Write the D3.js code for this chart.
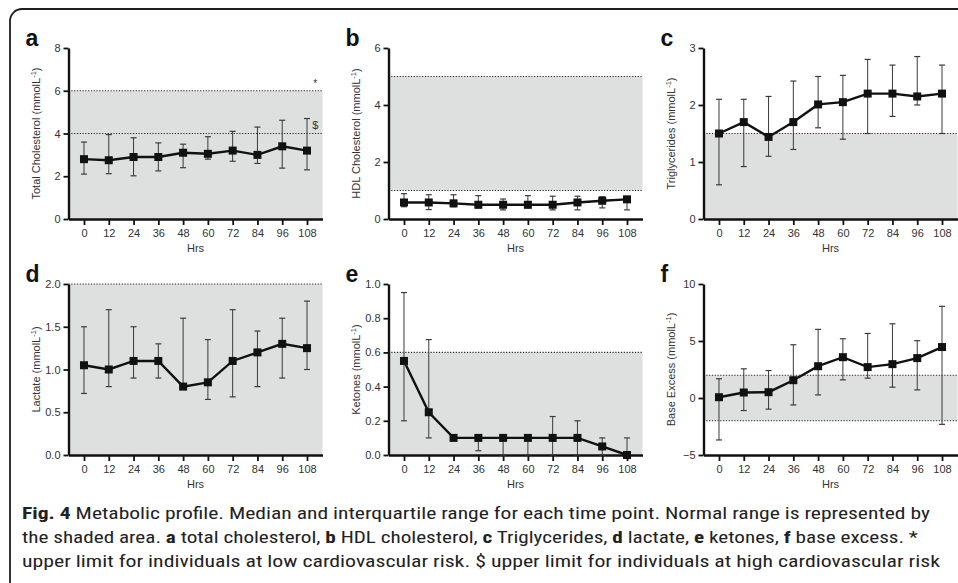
<!DOCTYPE html>
<html>
<head>
<meta charset="utf-8">
<script src="https://cdn.jsdelivr.net/npm/d3@7"></script>
<style>
  body { margin: 0; background: #fff; }
  svg { display: block; }
</style>
</head>
<body>
<div id="chart"></div>
<script>
// time points (hours)
var hours = [0, 12, 24, 36, 48, 60, 72, 84, 96, 108];

// a - total cholesterol
var tcMed = [2.8, 2.75, 2.9, 2.9, 3.1, 3.05, 3.2, 3.0, 3.4, 3.2];
var tcLo  = [2.1, 2.12, 2.02, 2.25, 2.4, 2.8, 2.7, 2.6, 2.38, 2.3];
var tcHi  = [3.6, 3.95, 3.8, 3.56, 3.5, 3.85, 4.1, 4.3, 4.62, 4.7];

// b - HDL cholesterol
var hdlMed = [0.58, 0.58, 0.55, 0.5, 0.5, 0.5, 0.5, 0.58, 0.64, 0.69];
var hdlLo  = [0.43, 0.33, 0.43, 0.39, 0.32, 0.39, 0.32, 0.32, 0.39, 0.32];
var hdlHi  = [0.89, 0.85, 0.85, 0.82, 0.7, 0.82, 0.8, 0.8, 0.78, 0.76];

// c - triglycerides
var tgMed = [1.5, 1.7, 1.44, 1.7, 2.01, 2.05, 2.2, 2.2, 2.15, 2.2];
var tgLo  = [0.6, 0.92, 1.1, 1.22, 1.6, 1.4, 1.5, 1.8, 2.0, 1.5];
var tgHi  = [2.1, 2.1, 2.15, 2.42, 2.5, 2.52, 2.8, 2.7, 2.85, 2.7];

// d - lactate
var lacMed = [1.05, 1.0, 1.1, 1.1, 0.8, 0.85, 1.1, 1.2, 1.3, 1.25];
var lacLo  = [0.72, 0.8, 0.9, 0.9, 0.8, 0.65, 0.68, 0.8, 0.9, 1.0];
var lacHi  = [1.5, 1.7, 1.5, 1.3, 1.6, 1.35, 1.7, 1.45, 1.6, 1.8];

// e - ketones
var ketMed = [0.55, 0.25, 0.1, 0.1, 0.1, 0.1, 0.1, 0.1, 0.05, 0];
var ketLo  = [0.2, 0.1, 0.1, 0.025, 0, 0, 0, 0, 0, 0];
var ketHi  = [0.95, 0.675, 0.1, 0.1, 0.1, 0.1, 0.225, 0.2, 0.1, 0.1];

// f - base excess
var beMed = [0.07, 0.48, 0.51, 1.56, 2.79, 3.58, 2.71, 2.97, 3.5, 4.47];
var beLo  = [-3.68, -1.1, -0.98, -0.61, 0.27, 1.59, 1.74, 0.95, 0.71, -2.31];
var beHi  = [1.69, 2.56, 2.41, 4.67, 6.02, 5.2, 5.66, 6.51, 5.03, 8.04];

// normal ranges and y ticks
var tcRange = [0, 6],    tcTicks = [0, 2, 4, 6, 8];
var hdlRange = [1, 5],   hdlTicks = [0, 2, 4, 6];
var tgRange = [0, 1.5],  tgTicks = [0, 1, 2, 3];
var lacRange = [0, 2],   lacTicks = [0, 0.5, 1, 1.5, 2];
var ketRange = [0, 0.6], ketTicks = [0, 0.2, 0.4, 0.6, 0.8, 1];
var beRange = [-2, 2],   beTicks = [-5, 0, 5, 10];

var W = 958, H = 583;
var font = '"Liberation Sans", Arial, Helvetica, sans-serif';
var colX = [68.5, 388.5, 703.5];
var plotW = 254;
var rowY = [[48, 219], [284, 455]];

var panels = [
  {letter: 'a', c: 0, r: 0, title: 'Total Cholesterol  (mmolL', med: tcMed, lo: tcLo, hi: tcHi,
   ticks: tcTicks, fmt: d3.format('d'), band: tcRange, dots: [6, 4]},
  {letter: 'b', c: 1, r: 0, title: 'HDL Cholesterol (mmolL', med: hdlMed, lo: hdlLo, hi: hdlHi,
   ticks: hdlTicks, fmt: d3.format('d'), band: hdlRange, dots: [1, 5]},
  {letter: 'c', c: 2, r: 0, title: 'Triglycerides  (mmolL', med: tgMed, lo: tgLo, hi: tgHi,
   ticks: tgTicks, fmt: d3.format('d'), band: tgRange, dots: [1.5]},
  {letter: 'd', c: 0, r: 1, title: 'Lactate  (mmolL', med: lacMed, lo: lacLo, hi: lacHi,
   ticks: lacTicks, fmt: d3.format('.1f'), band: lacRange, dots: [2]},
  {letter: 'e', c: 1, r: 1, title: 'Ketones (mmolL', med: ketMed, lo: ketLo, hi: ketHi,
   ticks: ketTicks, fmt: d3.format('.1f'), band: ketRange, dots: [0.6]},
  {letter: 'f', c: 2, r: 1, title: 'Base Excess  (mmolL', med: beMed, lo: beLo, hi: beHi,
   ticks: beTicks, fmt: d3.format('d'), band: beRange, dots: [-2, 2]}
];

var svg = d3.select('#chart').append('svg')
  .attr('width', W).attr('height', H)
  .style('font-family', font);

// frame (only top-left part is visible)
svg.append('path')
  .attr('d', 'M10,' + H + ' V21 A12,12 0 0 1 22,9 H' + (W + 2))
  .attr('fill', 'none').attr('stroke', '#1e1e1e').attr('stroke-width', 1.8);

panels.forEach(function(p) {
  var x0 = colX[p.c], x1 = x0 + plotW;
  var yTop = rowY[p.r][0], yBot = rowY[p.r][1];
  var x = d3.scaleLinear().domain([-7.5, 115.5]).range([x0, x1]);
  var y = d3.scaleLinear().domain([p.ticks[0], p.ticks[p.ticks.length - 1]]).range([yBot, yTop]);
  var g = svg.append('g');

  // normal range shading
  g.append('rect')
    .attr('x', x0).attr('width', x1 - x0)
    .attr('y', y(p.band[1])).attr('height', y(p.band[0]) - y(p.band[1]))
    .attr('fill', '#dedfdf');

  g.selectAll('.dot-line').data(p.dots).enter().append('line')
    .attr('x1', x0).attr('x2', x1)
    .attr('y1', function(d) { return y(d); }).attr('y2', function(d) { return y(d); })
    .attr('stroke', '#222').attr('stroke-width', 1.1)
    .attr('stroke-dasharray', '1.2,1.6');

  // axes
  var ya = g.append('g').attr('transform', 'translate(' + x0 + ',0)')
    .call(d3.axisLeft(y).tickValues(p.ticks).tickFormat(p.fmt).tickSize(5).tickSizeOuter(0).tickPadding(3));
  var xa = g.append('g').attr('transform', 'translate(0,' + yBot + ')')
    .call(d3.axisBottom(x).tickValues(hours).tickSize(6).tickSizeOuter(0).tickPadding(4));
  [ya, xa].forEach(function(a) {
    a.select('.domain').attr('stroke', '#111').attr('stroke-width', 2.4);
    a.selectAll('.tick line').attr('stroke', '#111').attr('stroke-width', 1.8);
    a.selectAll('.tick text').attr('fill', '#333').style('font-size', '11px').style('font-family', font);
  });

  // error bars
  var eb = g.selectAll('.err').data(hours).enter().append('g');
  eb.append('line')
    .attr('x1', function(d) { return x(d); }).attr('x2', function(d) { return x(d); })
    .attr('y1', function(d, i) { return y(p.lo[i]); }).attr('y2', function(d, i) { return y(p.hi[i]); })
    .attr('stroke', '#3a3a3a').attr('stroke-width', 1);
  ['lo', 'hi'].forEach(function(k) {
    eb.append('line')
      .attr('x1', function(d) { return x(d) - 3; }).attr('x2', function(d) { return x(d) + 3; })
      .attr('y1', function(d, i) { return y(p[k][i]); }).attr('y2', function(d, i) { return y(p[k][i]); })
      .attr('stroke', '#3a3a3a').attr('stroke-width', 1.2);
  });

  // median line
  var line = d3.line().x(function(d) { return x(d); }).y(function(d, i) { return y(p.med[i]); });
  g.append('path').datum(hours)
    .attr('d', line).attr('fill', 'none').attr('stroke', '#111').attr('stroke-width', 2.4);

  g.selectAll('.mk').data(hours).enter().append('rect')
    .attr('x', function(d) { return x(d) - 4; })
    .attr('y', function(d, i) { return y(p.med[i]) - 4; })
    .attr('width', 8).attr('height', 8).attr('fill', '#111');

  // y title
  var t = g.append('text')
    .attr('transform', 'translate(' + (x0 - 29) + ',' + ((yTop + yBot) / 2) + ') rotate(-90)')
    .attr('text-anchor', 'middle').attr('fill', '#333').style('font-size', '11px');
  t.append('tspan').text(p.title);
  t.append('tspan').attr('dy', -4).style('font-size', '7.5px').text('-1');
  t.append('tspan').attr('dy', 4).text(')');

  // x title
  g.append('text').attr('x', (x0 + x1) / 2).attr('y', yBot + 33)
    .attr('text-anchor', 'middle').attr('fill', '#333').style('font-size', '11px').text('Hrs');

  // panel letter
  g.append('text').attr('x', x0 - 43).attr('y', yTop - 2)
    .attr('fill', '#111').style('font-size', '23px').style('font-weight', 'bold').text(p.letter);

  if (p.letter === 'a') {
    g.append('text').attr('x', x(112)).attr('y', y(6) - 4).attr('text-anchor', 'middle')
      .attr('fill', '#333').style('font-size', '10px').text('*');
    g.append('text').attr('x', x(112)).attr('y', y(4) - 5).attr('text-anchor', 'middle')
      .attr('fill', '#333').style('font-size', '11px').text('$');
  }
});

// caption
var capFont = '"Liberation Sans Narrow", "Roboto Condensed", "Open Sans", sans-serif';
var cap = [
  {y: 519, len: 908, parts: [['Fig. 4', true], [' Metabolic profile. Median and interquartile range for each time point. Normal range is represented by', false]]},
  {y: 543, len: 896, parts: [['the shaded area. ', false], ['a', true], [' total cholesterol, ', false], ['b', true], [' HDL cholesterol, ', false], ['c', true], [' Triglycerides, ', false], ['d', true], [' lactate, ', false], ['e', true], [' ketones, ', false], ['f', true], [' base excess. *', false]]},
  {y: 567, len: 918, parts: [['upper limit for individuals at low cardiovascular risk. $ upper limit for individuals at high cardiovascular risk', false]]}
];
cap.forEach(function(c) {
  var t = svg.append('text').attr('x', 22).attr('y', c.y)
    .attr('textLength', c.len).attr('lengthAdjust', 'spacingAndGlyphs')
    .attr('fill', '#222').style('font-family', capFont).style('font-size', '17px');
  c.parts.forEach(function(pt) {
    t.append('tspan').style('font-weight', pt[1] ? 'bold' : 'normal').text(pt[0]);
  });
});
</script>
</body>
</html>
